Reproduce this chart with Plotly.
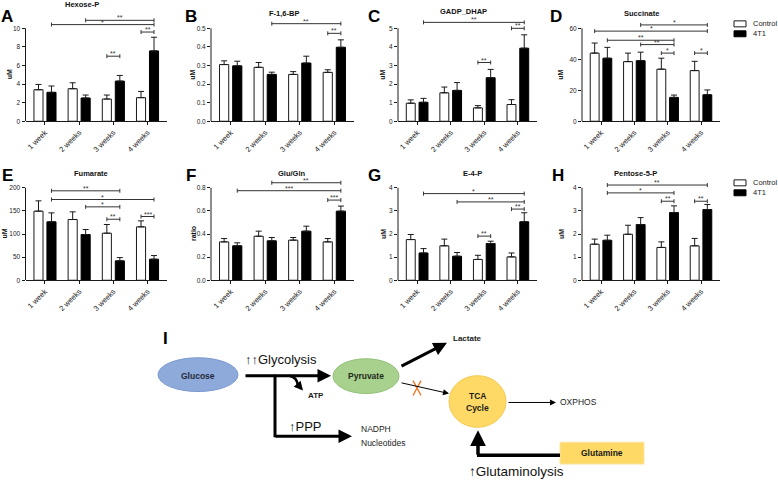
import plotly.graph_objects as go

W, H = 778, 481
FONT = "Liberation Sans, Arial, sans-serif"

weeks = ["1 week", "2 weeks", "3 weeks", "4 weeks"]

# ---------------- data ----------------
# A  Hexose-P (uM)
hexose_ctrl = [3.39, 3.50, 2.39, 2.54]
hexose_ctrl_err = [0.57, 0.64, 0.43, 0.67]
hexose_4t1 = [3.11, 2.50, 4.32, 7.57]
hexose_4t1_err = [0.68, 0.32, 0.61, 1.47]
hexose_ticks = [0, 2, 4, 6, 8, 10]
hexose_sig = [(1, "t", 3, "t", 10.86, "**"), (0, "t", 3, "t", 10.4, "*"),
              (2, "c", 2, "t", 7.0, "**"), (3, "c", 3, "t", 9.6, "**")]

# B  F-1,6-BP (uM)
fbp_ctrl = [0.305, 0.290, 0.252, 0.263]
fbp_ctrl_err = [0.020, 0.026, 0.015, 0.014]
fbp_4t1 = [0.298, 0.252, 0.313, 0.398]
fbp_4t1_err = [0.025, 0.012, 0.037, 0.040]
fbp_ticks = [0.0, 0.1, 0.2, 0.3, 0.4, 0.5]
fbp_sig = [(1, "t", 3, "t", 0.525, "**"), (3, "c", 3, "t", 0.473, "**")]

# C  GADP_DHAP (uM)
gadp_ctrl = [0.97, 1.53, 0.72, 0.90]
gadp_ctrl_err = [0.18, 0.31, 0.12, 0.26]
gadp_4t1 = [1.02, 1.66, 2.34, 3.93]
gadp_4t1_err = [0.21, 0.42, 0.45, 0.72]
gadp_ticks = [0, 1, 2, 3, 4, 5]
gadp_sig = [(0, "t", 3, "t", 5.32, "**"), (2, "c", 2, "t", 3.16, "**"),
            (3, "c", 3, "t", 5.0, "**")]

# D  Succinate (uM)
succ_ctrl = [44.0, 38.5, 33.6, 32.7]
succ_ctrl_err = [6.5, 5.5, 7.1, 6.0]
succ_4t1 = [40.7, 39.1, 15.4, 17.1]
succ_4t1_err = [7.0, 5.5, 1.5, 3.1]
succ_ticks = [0, 20, 40, 60]
succ_sig = [(1, "t", 3, "t", 62.2, "*"), (0, "c", 3, "t", 58.2, "*"),
            (0, "t", 2, "t", 52.3, "**"), (1, "t", 2, "t", 49.5, "**"),
            (2, "c", 2, "t", 44.0, "*"), (3, "c", 3, "t", 44.0, "*")]

# E  Fumarate (uM)
fum_ctrl = [149.5, 131.4, 101.8, 115.5]
fum_ctrl_err = [22.3, 16.6, 18.8, 13.0]
fum_4t1 = [126.4, 98.9, 41.9, 45.5]
fum_4t1_err = [19.4, 10.8, 7.1, 7.9]
fum_ticks = [0, 50, 100, 150, 200]
fum_sig = [(0, "t", 2, "t", 193.5, "**"), (0, "t", 3, "t", 174.7, "*"),
           (1, "t", 2, "t", 158.8, "*"), (2, "c", 2, "t", 132.0, "**"),
           (3, "c", 3, "t", 137.9, "***")]

# F  Glu/Gln (ratio)
glu_ctrl = [0.332, 0.381, 0.347, 0.332]
glu_ctrl_err = [0.029, 0.044, 0.023, 0.029]
glu_4t1 = [0.298, 0.341, 0.425, 0.598]
glu_4t1_err = [0.026, 0.029, 0.043, 0.044]
glu_ticks = [0.0, 0.2, 0.4, 0.6, 0.8]
glu_sig = [(1, "t", 3, "t", 0.844, "**"), (0, "t", 3, "t", 0.775, "***"),
           (3, "c", 3, "t", 0.694, "***")]

# G  E-4-P (uM)
e4p_ctrl = [1.76, 1.49, 0.90, 1.01]
e4p_ctrl_err = [0.22, 0.29, 0.18, 0.17]
e4p_4t1 = [1.18, 1.04, 1.59, 2.53]
e4p_4t1_err = [0.19, 0.16, 0.10, 0.39]
e4p_ticks = [0, 1, 2, 3, 4]
e4p_sig = [(0, "t", 3, "t", 3.75, "*"), (1, "t", 3, "t", 3.39, "**"),
           (2, "c", 2, "t", 1.91, "**"), (3, "c", 3, "t", 3.08, "**")]

# H  Pentose-5-P (uM)
pen_ctrl = [1.56, 1.99, 1.42, 1.49]
pen_ctrl_err = [0.22, 0.39, 0.24, 0.32]
pen_4t1 = [1.73, 2.41, 2.93, 3.06]
pen_4t1_err = [0.22, 0.30, 0.29, 0.22]
pen_ticks = [0, 1, 2, 3, 4]
pen_sig = [(0, "t", 3, "t", 4.12, "**"), (0, "t", 2, "t", 3.78, "*"),
           (2, "c", 2, "t", 3.42, "**"), (3, "c", 3, "t", 3.42, "**")]

panels = [
    dict(letter="A", title="Hexose-P", ylab="uM", ctrl=hexose_ctrl, ce=hexose_ctrl_err, t=hexose_4t1, te=hexose_4t1_err, ticks=hexose_ticks, sig=hexose_sig, fmt="d", tx=82, ty=5, lx=7, ylx=16),
    dict(letter="B", title="F-1,6-BP", ylab="uM", ctrl=fbp_ctrl, ce=fbp_ctrl_err, t=fbp_4t1, te=fbp_4t1_err, ticks=fbp_ticks, sig=fbp_sig, fmt=".1f", tx=284, ty=14, lx=191, ylx=18),
    dict(letter="C", title="GADP_DHAP", ylab="uM", ctrl=gadp_ctrl, ce=gadp_ctrl_err, t=gadp_4t1, te=gadp_4t1_err, ticks=gadp_ticks, sig=gadp_sig, fmt="d", tx=463, ty=12, lx=374, ylx=15),
    dict(letter="D", title="Succinate", ylab="uM", ctrl=succ_ctrl, ce=succ_ctrl_err, t=succ_4t1, te=succ_4t1_err, ticks=succ_ticks, sig=succ_sig, fmt="d", tx=641, ty=14, lx=556, ylx=21),
    dict(letter="E", title="Fumarate", ylab="uM", ctrl=fum_ctrl, ce=fum_ctrl_err, t=fum_4t1, te=fum_4t1_err, ticks=fum_ticks, sig=fum_sig, fmt="d", tx=91, ty=175, lx=8, ylx=21),
    dict(letter="F", title="Glu/Gln", ylab="ratio", ctrl=glu_ctrl, ce=glu_ctrl_err, t=glu_4t1, te=glu_4t1_err, ticks=glu_ticks, sig=glu_sig, fmt=".1f", tx=292, ty=175, lx=191, ylx=18),
    dict(letter="G", title="E-4-P", ylab="uM", ctrl=e4p_ctrl, ce=e4p_ctrl_err, t=e4p_4t1, te=e4p_4t1_err, ticks=e4p_ticks, sig=e4p_sig, fmt="d", tx=472, ty=175, lx=374, ylx=15),
    dict(letter="H", title="Pentose-5-P", ylab="uM", ctrl=pen_ctrl, ce=pen_ctrl_err, t=pen_4t1, te=pen_4t1_err, ticks=pen_ticks, sig=pen_sig, fmt="d", tx=635, ty=175, lx=558, ylx=21),
]

# ---------------- layout helpers ----------------
COLS = [(25.5, 167), (211, 354), (398, 537), (582, 720)]
ROWS = [dict(bottom=122, tickmax_px=28.5, top=14), dict(bottom=282, tickmax_px=189, top=174)]
OFF = 0.19          # centre offset of each bar inside a group (follows bargap/bargroupgap)
XR = [-0.57, 3.57]
INK = "#1a1a1a"


def px(x):
    return x / W


def py(y):
    return 1 - y / H


fig = go.Figure()
shapes = []
annotations = []
layout_axes = {}

for k, p in enumerate(panels):
    n = k + 1
    r, c = divmod(k, 4)
    sx = "" if n == 1 else str(n)
    L, R = COLS[c]
    row = ROWS[r]
    tickmax = p["ticks"][-1]
    ytop = tickmax * (row["bottom"] - row["top"]) / (row["bottom"] - row["tickmax_px"])

    fig.add_trace(go.Bar(
        x=weeks, y=p["ctrl"], name="Control", showlegend=False,
        xaxis="x" + sx, yaxis="y" + sx,
        marker=dict(color="white", line=dict(color=INK, width=1)),
        error_y=dict(type="data", array=p["ce"], arrayminus=[0] * 4, symmetric=False,
                     color=INK, thickness=1, width=3),
    ))
    fig.add_trace(go.Bar(
        x=weeks, y=p["t"], name="4T1", showlegend=False,
        xaxis="x" + sx, yaxis="y" + sx,
        marker=dict(color="black", line=dict(color="black", width=1)),
        error_y=dict(type="data", array=p["te"], arrayminus=[0] * 4, symmetric=False,
                     color=INK, thickness=1, width=3),
    ))

    if p["fmt"] == "d":
        ticktext = [str(int(v)) for v in p["ticks"]]
    else:
        ticktext = [format(v, p["fmt"]) for v in p["ticks"]]

    layout_axes["xaxis" + sx] = dict(
        domain=[px(L), px(R)], anchor="y" + sx, type="category", range=XR,
        showline=True, linecolor=INK, linewidth=1, ticks="outside", ticklen=3,
        tickcolor=INK, tickangle=-45, tickfont=dict(size=7.5, color="#222", family=FONT),
        showgrid=False, zeroline=False, fixedrange=True,
    )
    layout_axes["yaxis" + sx] = dict(
        domain=[py(row["bottom"]), py(row["top"])], anchor="x" + sx, range=[0, ytop],
        tickvals=p["ticks"], ticktext=ticktext, ticks="outside", ticklen=3, tickcolor=INK,
        tickfont=dict(size=6.5, color="#222", family=FONT),
        showline=False, showgrid=False, zeroline=False, fixedrange=True,
    )
    # y spine only up to the top tick (Prism style)
    shapes.append(dict(type="line", xref="paper", yref="y" + sx, x0=px(L), x1=px(L),
                       y0=0, y1=tickmax, line=dict(color=INK, width=1)))

    # significance brackets
    d = ytop * 2.0 / (row["bottom"] - row["top"])
    for (i0, s0, i1, s1, yv, lab) in p["sig"]:
        x0 = i0 + (-OFF if s0 == "c" else OFF)
        x1 = i1 + (-OFF if s1 == "c" else OFF)
        shapes.append(dict(type="line", xref="x" + sx, yref="y" + sx, x0=x0, x1=x1,
                           y0=yv, y1=yv, line=dict(color="#333", width=1)))
        for xv in (x0, x1):
            shapes.append(dict(type="line", xref="x" + sx, yref="y" + sx, x0=xv, x1=xv,
                               y0=yv - d, y1=yv + d, line=dict(color="#333", width=1)))
        annotations.append(dict(xref="x" + sx, yref="y" + sx, x=(x0 + x1) / 2, y=yv,
                                text=lab, showarrow=False, yanchor="bottom", yshift=-3,
                                font=dict(size=7, color="#333", family=FONT)))

    # title, panel letter, y label
    annotations.append(dict(xref="paper", yref="paper", x=px(p["tx"]), y=py(p["ty"]),
                            text="<b>%s</b>" % p["title"], showarrow=False,
                            xanchor="center", yanchor="middle",
                            font=dict(size=7.5, color="#111", family=FONT)))
    annotations.append(dict(xref="paper", yref="paper", x=px(p["lx"]), y=py(17 + 160 * r),
                            text="<b>%s</b>" % p["letter"], showarrow=False,
                            xanchor="center", yanchor="middle",
                            font=dict(size=17, color="black", family=FONT)))
    ymid = (row["bottom"] + row["tickmax_px"]) / 2
    annotations.append(dict(xref="paper", yref="paper", x=px(L - p["ylx"]), y=py(ymid),
                            text="<b>%s</b>" % p["ylab"], showarrow=False, textangle=-90,
                            xanchor="center", yanchor="middle",
                            font=dict(size=7, color="#111", family=FONT)))

# ---------------- legends (one per row) ----------------
for ly in (21, 181):
    shapes.append(dict(type="rect", xref="paper", yref="paper", x0=px(734), x1=px(746),
                       y0=py(ly), y1=py(ly + 6), fillcolor="white", line=dict(color=INK, width=1)))
    shapes.append(dict(type="rect", xref="paper", yref="paper", x0=px(734), x1=px(746),
                       y0=py(ly + 10), y1=py(ly + 16), fillcolor="black", line=dict(color="black", width=1)))
    for txt, dy in (("Control", 3), ("4T1", 13)):
        annotations.append(dict(xref="paper", yref="paper", x=px(751), y=py(ly + dy), text=txt,
                                showarrow=False, xanchor="left", yanchor="middle",
                                font=dict(size=7.5, color="#222", family=FONT)))

# ---------------- panel I : pathway diagram ----------------
def ell(x0, y0, x1, y1, fill, line):
    shapes.append(dict(type="circle", xref="paper", yref="paper", x0=px(x0), x1=px(x1),
                       y0=py(y1), y1=py(y0), fillcolor=fill, line=dict(color=line, width=1)))


def seg(x0, y0, x1, y1, w, color="black"):
    shapes.append(dict(type="line", xref="paper", yref="paper", x0=px(x0), x1=px(x1),
                       y0=py(y0), y1=py(y1), line=dict(color=color, width=w)))


def arrow(tx, ty, hx, hy, w, size=1.0):
    annotations.append(dict(xref="paper", yref="paper", x=px(hx), y=py(hy), ax=tx - hx, ay=ty - hy,
                            axref="pixel", ayref="pixel", text="", showarrow=True,
                            arrowhead=2, arrowsize=size, arrowwidth=w, arrowcolor="black", standoff=0))


def label(x, y, text, size, bold=False, anchor="center", color="#1a1a1a"):
    annotations.append(dict(xref="paper", yref="paper", x=px(x), y=py(y),
                            text=("<b>%s</b>" % text) if bold else text, showarrow=False,
                            xanchor=anchor, yanchor="middle",
                            font=dict(size=size, color=color, family=FONT)))


ell(158, 360, 238, 394, "#8eaadb", "#7b98cf")
ell(333, 361, 399, 396, "#a9d18e", "#93c178")
ell(449, 378, 506, 430, "#ffd966", "#f5c94f")
shapes.append(dict(type="rect", xref="paper", yref="paper", x0=px(560), x1=px(644),
                   y0=py(467), y1=py(445), fillcolor="#ffd966", line=dict(color="#fbe3a0", width=1)))

arrow(244, 378, 331, 378, 3, 0.9)                 # glucose -> pyruvate
seg(275, 377, 275, 440, 3)                         # PPP branch
arrow(274, 439, 352, 439, 3, 0.9)
shapes.append(dict(type="path", xref="paper", yref="paper",
                   path="M %f,%f Q %f,%f %f,%f" % (px(289), py(378), px(297), py(379), px(298), py(388)),
                   line=dict(color="black", width=2.5)))
arrow(297, 386, 303, 393, 2, 0.9)                  # ATP
arrow(400, 369, 447, 345, 3, 0.9)                  # pyruvate -> lactate
arrow(400, 385, 449, 396, 1, 1.2)                  # pyruvate -> TCA (blocked)
seg(413, 383, 421, 398, 1.5, "#ed7d31")
seg(421, 383, 413, 398, 1.5, "#ed7d31")
arrow(507, 405, 556, 405, 1, 1.2)                  # TCA -> OXPHOS
seg(560, 458, 477, 458, 3.5)                       # glutamine -> TCA
arrow(478, 459, 478, 433, 3.5, 0.9)

label(165, 341, "I", 17, bold=True, color="black")
label(198, 378, "Glucose", 8.5, bold=True, color="#1f2a3a")
label(243, 362, "↑↑Glycolysis", 13, anchor="left", color="#111")
label(306, 398, "ATP", 8, bold=True, anchor="left")
label(287, 429, "↑PPP", 13, anchor="left", color="#111")
label(359, 432, "NADPH", 8.5, anchor="left", color="#222")
label(359, 446, "Nucleotides", 8.5, anchor="left", color="#222")
label(366, 378, "Pyruvate", 8.5, bold=True, color="#1f2a1a")
label(451, 341, "Lactate", 8, bold=True, anchor="left")
label(477, 398, "TCA", 8.5, bold=True)
label(477, 411, "Cycle", 8.5, bold=True)
label(558, 405, "OXPHOS", 8.5, anchor="left", color="#222")
label(602, 456, "Glutamine", 8.5, bold=True)
label(467, 474, "↑Glutaminolysis", 13.5, anchor="left", color="#111")

fig.update_layout(
    width=W, height=H, autosize=False,
    margin=dict(l=0, r=0, t=0, b=0),
    paper_bgcolor="white", plot_bgcolor="rgba(0,0,0,0)",
    barmode="group", bargap=0.24, bargroupgap=0.3,
    showlegend=False, font=dict(family=FONT),
    shapes=shapes, annotations=annotations,
    **layout_axes,
)

# the page body has a default 8px margin; remove it so the 778x481 figure fills the window
fig.write_html("out.html", config={"displayModeBar": False},
               post_script="document.body.style.margin='0';document.body.style.overflow='hidden';")
